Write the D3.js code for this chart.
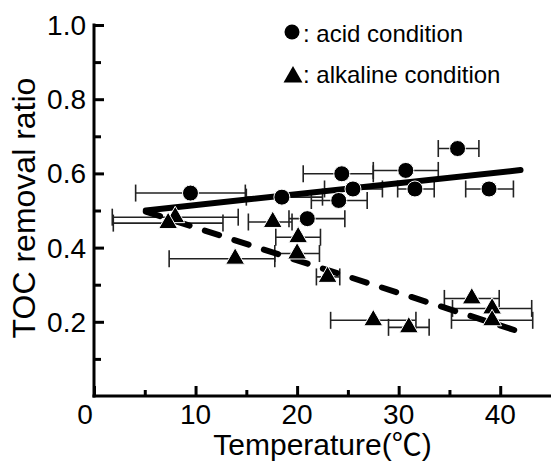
<!DOCTYPE html>
<html>
<head>
<meta charset="utf-8">
<script src="https://cdn.jsdelivr.net/npm/d3@7"></script>
<style>
  body { margin: 0; background: #fff; }
  svg { display: block; font-family: "Liberation Sans", Arial, "Noto Sans CJK JP", sans-serif; }
</style>
</head>
<body>
<svg id="chart" width="552" height="464"></svg>
<script>
// acid condition (circles): temperature, TOC removal ratio, error bar low / high
const acidTemp  = [9.5, 18.5, 24.4, 25.5, 24.1, 21.0, 30.7, 31.6, 35.8, 38.9];
const acidRatio = [0.547, 0.536, 0.599, 0.558, 0.527, 0.478, 0.608, 0.558, 0.667, 0.558];
const acidLow   = [4.1, 15.0, 20.6, 22.7, 21.4, 19.2, 27.5, 29.9, 33.9, 36.6];
const acidHigh  = [14.9, 22.5, 27.5, 28.4, 26.9, 24.7, 33.9, 33.5, 37.9, 41.3];

// alkaline condition (triangles)
const alkTemp  = [8.0, 7.3, 17.6, 20.1, 13.9, 20.0, 23.0, 27.5, 31.0, 37.2, 39.2, 39.2];
const alkRatio = [0.482, 0.466, 0.469, 0.428, 0.370, 0.384, 0.321, 0.204, 0.185, 0.263, 0.236, 0.204];
const alkLow   = [1.8, 1.9, 15.2, 17.9, 7.4, 17.8, 21.9, 23.3, 29.0, 34.5, 35.3, 35.2];
const alkHigh  = [14.2, 12.7, 19.5, 22.3, 17.8, 22.2, 24.2, 31.7, 33.0, 39.9, 43.1, 43.2];

// fitted lines (end points)
const acidFitX = [5.1, 42.0];
const acidFitY = [0.500, 0.609];
const alkFitX  = [5.1, 42.5];
const alkFitY  = [0.497, 0.168];

const xTicks = [0, 10, 20, 30, 40];
const xMinor = [5, 15, 25, 35];
const yTicks = [0.2, 0.4, 0.6, 0.8, 1.0];
const yMinor = [0.1, 0.3, 0.5, 0.7, 0.9];

const svg = d3.select('#chart');

const x = d3.scaleLinear().domain([0, 45]).range([94, 551]);
const y = d3.scaleLinear().domain([0, 1]).range([396, 25]);

function zip(a, b, lo, hi) {
  return a.map((v, i) => ({ t: v, r: b[i], lo: lo[i], hi: hi[i] }));
}
const acid = zip(acidTemp, acidRatio, acidLow, acidHigh);
const alk = zip(alkTemp, alkRatio, alkLow, alkHigh);

// axis spines as filled bars
svg.append('rect')
  .attr('x', x(0) - 1.5).attr('y', y(1) - 1.5)
  .attr('width', 3).attr('height', y(0) - y(1) + 3)
  .attr('fill', '#000');
svg.append('rect')
  .attr('x', x(0) - 1.5).attr('y', y(0) - 1.5)
  .attr('width', x(45) - x(0) + 1.5).attr('height', 3)
  .attr('fill', '#000');

function styleAxis(g) {
  g.selectAll('.domain').remove();
  g.selectAll('line').attr('stroke', '#000').attr('stroke-width', 3);
}

// ticks point inward
const xAxis = svg.append('g').attr('transform', `translate(0,${y(0)})`);
xAxis.call(d3.axisTop(x).tickValues(xTicks).tickSize(10).tickFormat(''));
xAxis.append('g').call(d3.axisTop(x).tickValues(xMinor).tickSize(6).tickFormat(''));
styleAxis(xAxis);

const yAxis = svg.append('g').attr('transform', `translate(${x(0)},0)`);
yAxis.call(d3.axisRight(y).tickValues(yTicks).tickSize(10).tickFormat(''));
yAxis.append('g').call(d3.axisRight(y).tickValues(yMinor).tickSize(7).tickFormat(''));
styleAxis(yAxis);

// tick labels
svg.append('g').selectAll('text').data(xTicks).join('text')
  .attr('x', d => d === 0 ? x(d) - 9 : x(d))
  .attr('y', 424)
  .attr('text-anchor', 'middle')
  .attr('font-size', 28)
  .text(d => d);

svg.append('g').selectAll('text').data(yTicks).join('text')
  .attr('x', 86)
  .attr('y', d => y(d) + 10)
  .attr('text-anchor', 'end')
  .attr('font-size', 28)
  .text(d => d.toFixed(1));

svg.append('text')
  .attr('x', (x(0) + x(45)) / 2)
  .attr('y', 455)
  .attr('text-anchor', 'middle')
  .attr('font-size', 30)
  .text('Temperature(℃)');

svg.append('text')
  .attr('transform', 'translate(35,208) rotate(-90)')
  .attr('text-anchor', 'middle')
  .attr('font-size', 32)
  .text('TOC removal ratio');

// error bars
function errorBars(data) {
  const g = svg.append('g').attr('stroke', '#222').attr('stroke-width', 1.6).attr('fill', 'none');
  data.forEach(d => {
    g.append('line').attr('x1', x(d.lo)).attr('x2', x(d.hi)).attr('y1', y(d.r)).attr('y2', y(d.r));
    g.append('line').attr('x1', x(d.lo)).attr('x2', x(d.lo)).attr('y1', y(d.r) - 8.5).attr('y2', y(d.r) + 8.5);
    g.append('line').attr('x1', x(d.hi)).attr('x2', x(d.hi)).attr('y1', y(d.r) - 8.5).attr('y2', y(d.r) + 8.5);
  });
}
errorBars(acid);
errorBars(alk);

// fitted lines
const fit = d3.line().x(d => x(d[0])).y(d => y(d[1]));
svg.append('path')
  .attr('d', fit(acidFitX.map((v, i) => [v, acidFitY[i]])))
  .attr('stroke', '#000').attr('stroke-width', 6).attr('stroke-linecap', 'round').attr('fill', 'none');
svg.append('path')
  .attr('d', fit(alkFitX.map((v, i) => [v, alkFitY[i]])))
  .attr('stroke', '#000').attr('stroke-width', 6).attr('stroke-linecap', 'round')
  .attr('stroke-dasharray', '15 16').attr('fill', 'none');

// markers
svg.append('g').selectAll('circle').data(acid).join('circle')
  .attr('cx', d => x(d.t)).attr('cy', d => y(d.r)).attr('r', 8)
  .attr('fill', '#000').attr('stroke', '#fff').attr('stroke-width', 1);

const tri = d3.symbol().type(d3.symbolTriangle).size(155);
svg.append('g').selectAll('path').data(alk).join('path')
  .attr('transform', d => `translate(${x(d.t)},${y(d.r)})`)
  .attr('d', tri)
  .attr('fill', '#000').attr('stroke', '#fff').attr('stroke-width', 1);

// legend
svg.append('circle').attr('cx', 292).attr('cy', 32).attr('r', 7.5).attr('fill', '#000');
svg.append('text').attr('x', 303).attr('y', 42).attr('font-size', 24).text(': acid condition');
svg.append('path').attr('transform', 'translate(293,77)').attr('d', tri).attr('fill', '#000');
svg.append('text').attr('x', 303).attr('y', 83).attr('font-size', 24).text(': alkaline condition');
</script>
</body>
</html>
